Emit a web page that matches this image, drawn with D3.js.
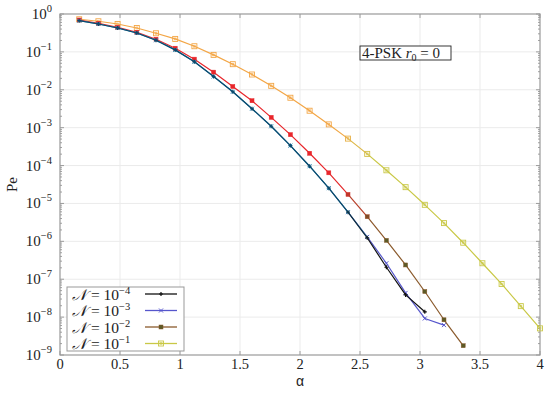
<!DOCTYPE html>
<html>
<head>
<style>
  body{ margin:0; background:#fff; }
  svg text{ font-family:"Liberation Serif", "DejaVu Serif", serif; fill:#222; }
</style>
<script src="https://d3js.org/d3.v7.min.js"></script>
</head>
<body>
<div id="chart"></div>
<script>
// alpha values are 0.16 * k
const alpha = d3.range(1, 26).map(k => +(0.16 * k).toFixed(2));

// Pe values
const pe4 = [0.667, 0.545, 0.428, 0.316, 0.203, 0.113, 0.0546, 0.0224, 0.00886, 0.00316,
  0.00109, 3.36e-4, 9.6e-5, 2.53e-5, 5.9e-6, 1.24e-6, 2.07e-7, 3.86e-8, 1.38e-8];
const pe3 = [0.667, 0.545, 0.428, 0.316, 0.203, 0.113, 0.0546, 0.0224, 0.00886, 0.00316,
  0.00109, 3.36e-4, 9.6e-5, 2.53e-5, 5.9e-6, 1.31e-6, 2.64e-7, 4.36e-8, 9.2e-9, 6.15e-9];
const pe2 = [0.695, 0.569, 0.447, 0.330, 0.216, 0.125, 0.0643, 0.0292, 0.0122, 0.00514,
  0.00187, 6.54e-4, 2.11e-4, 6.43e-5, 1.73e-5, 4.47e-6, 1.06e-6, 2.38e-7, 4.74e-8, 8.5e-9, 1.76e-9];
const pe1 = [0.726, 0.643, 0.545, 0.428, 0.310, 0.220, 0.141, 0.0833, 0.0474, 0.0253,
  0.0127, 0.00616, 0.0028, 0.00122, 5.14e-4, 2.03e-4, 7.5e-5, 2.69e-5, 9.2e-6, 3.03e-6,
  9.2e-7, 2.64e-7, 7.5e-8, 1.95e-8, 5.05e-9];

const seriesNames = ['-4', '-3', '-2', '-1'];
const seriesValues = [pe4, pe3, pe2, pe1];

const xTicks = [0, 0.5, 1, 1.5, 2, 2.5, 3, 3.5, 4];
const xTickLabels = ['0', '0.5', '1', '1.5', '2', '2.5', '3', '3.5', '4'];
const yExponents = [0, -1, -2, -3, -4, -5, -6, -7, -8, -9];

// styling (colour drifts from start to end along each curve)
const styles = [
  {start:'#0c4a6c', end:'#111111', mfill:'#111111', marker:'plus'},
  {start:'#2a86b6', end:'#5656cc', mfill:'#4a5cc8', marker:'cross'},
  {start:'#e8262b', end:'#8a5a2c', mfill:'#5c5a26', marker:'square'},
  {start:'#f3a646', end:'#c9c846', mfill:'none', marker:'osquare'}
];

const width = 550, height = 397;
const m = {left:60, right:10, top:14, bottom:42};

const svg = d3.select('#chart').append('svg')
  .attr('width', width).attr('height', height);

const x = d3.scaleLinear().domain([0, 4]).range([m.left, width - m.right]);
const y = d3.scaleLog().domain([1e-9, 1]).range([height - m.bottom, m.top]);

const x0 = x.range()[0], x1 = x.range()[1];
const y0 = y.range()[0], y1 = y.range()[1];

// grid
const grid = svg.append('g');
xTicks.slice(1, -1).forEach(v => {
  grid.append('line').attr('x1', x(v)).attr('x2', x(v)).attr('y1', y0).attr('y2', y1)
    .attr('stroke', '#ebebeb').attr('stroke-width', 1);
});
yExponents.slice(1, -1).forEach(e => {
  grid.append('line').attr('x1', x0).attr('x2', x1).attr('y1', y(Math.pow(10, e))).attr('y2', y(Math.pow(10, e)))
    .attr('stroke', '#ebebeb').attr('stroke-width', 1);
});

// ticks
const ticks = svg.append('g').attr('stroke', '#888').attr('stroke-width', 0.8);
xTicks.forEach(v => {
  ticks.append('line').attr('x1', x(v)).attr('x2', x(v)).attr('y1', y0).attr('y2', y0 - 4);
  ticks.append('line').attr('x1', x(v)).attr('x2', x(v)).attr('y1', y1).attr('y2', y1 + 4);
});
yExponents.forEach(e => {
  const yy = y(Math.pow(10, e));
  ticks.append('line').attr('x1', x0).attr('x2', x0 + 4).attr('y1', yy).attr('y2', yy);
  ticks.append('line').attr('x1', x1).attr('x2', x1 - 4).attr('y1', yy).attr('y2', yy);
  if (e > -9) {
    d3.range(2, 10).forEach(k => {
      const ym = y(k * Math.pow(10, e - 1));
      ticks.append('line').attr('x1', x0).attr('x2', x0 + 2).attr('y1', ym).attr('y2', ym);
      ticks.append('line').attr('x1', x1).attr('x2', x1 - 2).attr('y1', ym).attr('y2', ym);
    });
  }
});

// frame
svg.append('rect').attr('x', x0).attr('y', y1).attr('width', x1 - x0).attr('height', y0 - y1)
  .attr('fill', 'none').attr('stroke', '#999').attr('stroke-width', 1.2);

// tick labels
xTicks.forEach((v, i) => {
  svg.append('text').attr('x', x(v)).attr('y', y0 + 14).attr('text-anchor', 'middle')
    .attr('font-size', 14.5).text(xTickLabels[i]);
});
yExponents.forEach(e => {
  const t = svg.append('text').attr('x', x0 - 8).attr('y', y(Math.pow(10, e)) + 5)
    .attr('text-anchor', 'end').attr('font-size', 15);
  t.append('tspan').text('10');
  t.append('tspan').attr('dy', -7).attr('font-size', 10.5).text(e === 0 ? '0' : '\u2212' + (-e));
});

// axis titles
svg.append('text').attr('x', (x0 + x1) / 2).attr('y', 386).attr('text-anchor', 'middle')
  .attr('font-size', 14).style('font-family', '"Liberation Sans", sans-serif').text('α');
svg.append('text').attr('transform', `translate(17, ${(y0 + y1) / 2}) rotate(-90)`)
  .attr('text-anchor', 'middle').attr('font-size', 15).text('Pe');

// annotation box
const ann = svg.append('g').attr('transform', 'translate(360,46)');
ann.append('rect').attr('width', 91).attr('height', 14).attr('fill', '#fff')
  .attr('stroke', '#222').attr('stroke-width', 0.9);
const at = ann.append('text').attr('x', 2).attr('y', 12).attr('font-size', 15);
at.append('tspan').text('4-PSK ');
at.append('tspan').attr('font-style', 'italic').text('r');
at.append('tspan').attr('dy', 3).attr('font-size', 10).text('0');
at.append('tspan').attr('dy', -3).text(' = 0');

function drawMarker(g, type, cx, cy, color, fill) {
  if (type === 'plus') {
    g.append('path').attr('d', `M${cx - 2},${cy}H${cx + 2}M${cx},${cy - 2}V${cy + 2}`)
      .attr('stroke', color).attr('stroke-width', 1.2);
  } else if (type === 'cross') {
    g.append('path').attr('d', `M${cx - 2},${cy - 2}L${cx + 2},${cy + 2}M${cx - 2},${cy + 2}L${cx + 2},${cy - 2}`)
      .attr('stroke', color).attr('stroke-width', 1);
  } else if (type === 'square') {
    g.append('rect').attr('x', cx - 2).attr('y', cy - 2).attr('width', 4).attr('height', 4)
      .attr('fill', fill).attr('stroke', color).attr('stroke-width', 0.5);
  } else {
    g.append('rect').attr('x', cx - 2.5).attr('y', cy - 2.5).attr('width', 5).attr('height', 5)
      .attr('fill', 'none').attr('stroke', color).attr('stroke-width', 0.9);
    g.append('rect').attr('x', cx - 1).attr('y', cy - 1).attr('width', 2).attr('height', 2)
      .attr('fill', 'none').attr('stroke', color).attr('stroke-width', 0.5);
  }
}

const mix = (s, a) => d3.interpolateRgb(s.start, s.end)(Math.max(0, Math.min(1, (a - 2.3) / 0.35)));

// curves, drawn last series first so black ends on top
const plot = svg.append('g');
[3, 2, 1, 0].forEach(si => {
  const vals = seriesValues[si], s = styles[si];
  const pts = vals.map((v, i) => [alpha[i], v]);
  const g = plot.append('g');
  for (let i = 0; i < pts.length - 1; i++) {
    g.append('line')
      .attr('x1', x(pts[i][0])).attr('y1', y(pts[i][1]))
      .attr('x2', x(pts[i + 1][0])).attr('y2', y(pts[i + 1][1]))
      .attr('stroke', mix(s, (pts[i][0] + pts[i + 1][0]) / 2)).attr('stroke-width', 1.2)
      .attr('stroke-linecap', 'round');
  }
  pts.forEach(p => {
    const c = mix(s, p[0]);
    const f = s.marker === 'square' ? d3.interpolateRgb('#e8262b', s.mfill)(Math.max(0, Math.min(1, (p[0] - 2.3) / 0.35))) : c;
    drawMarker(g, s.marker, x(p[0]), y(p[1]), c, f);
  });
});

// legend
const lg = svg.append('g').attr('transform', 'translate(67,287)');
lg.append('rect').attr('width', 117).attr('height', 64).attr('fill', '#fff')
  .attr('stroke', '#999').attr('stroke-width', 1);
seriesNames.forEach((nm, i) => {
  const s = styles[i];
  const yy = 7 + i * 16.5;
  const t = lg.append('text').attr('x', 5).attr('y', yy + 5.5).attr('font-size', 15.5);
  t.append('tspan').attr('font-style', 'italic').text('\uD835\uDCA9');
  t.append('tspan').text(' = 10');
  t.append('tspan').attr('dy', -6).attr('font-size', 10.5).text(nm.replace('-', '\u2212'));
  lg.append('line').attr('x1', 78).attr('x2', 110).attr('y1', yy).attr('y2', yy)
    .attr('stroke', s.end).attr('stroke-width', 1.3);
  drawMarker(lg, s.marker, 94, yy, s.end, s.mfill);
});
</script>
</body>
</html>
